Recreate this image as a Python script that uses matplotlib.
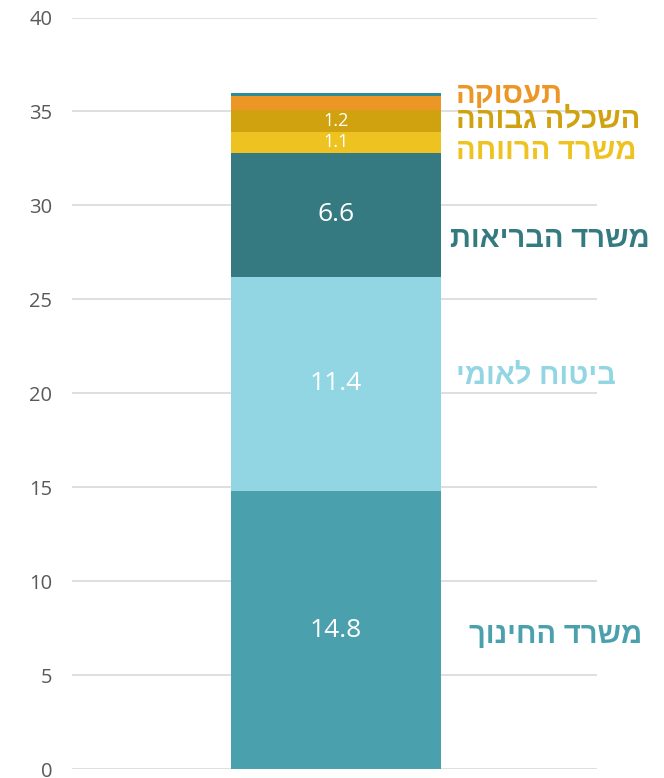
import matplotlib
matplotlib.use("Agg")
import matplotlib.pyplot as plt

plt.rcParams['font.family'] = ['Open Sans', 'Liberation Sans', 'DejaVu Sans']

categories = ["משרד החינוך", "ביטוח לאומי", "משרד הבריאות", "משרד הרווחה", "השכלה גבוהה", "תעסוקה", "אחר"]
values = [14.8, 11.4, 6.6, 1.1, 1.2, 0.7, 0.2]
colors = ["#4AA1AD", "#93D6E3", "#357A80", "#EEC321", "#D0A210", "#EC9626", "#2B8C9C"]
value_labels = ["14.8", "11.4", "6.6", "1.1", "1.2", "", ""]
label_colors = ["#4AA1AD", "#93D6E3", "#357A80", "#EEC321", "#D0A210", "#EC9626", None]
yticks = [0, 5, 10, 15, 20, 25, 30, 35, 40]

def visual(s):
    return s[::-1]

fig = plt.figure(figsize=(6.64, 7.78), dpi=100)
ax = fig.add_axes([0.108, 0.0115, 0.791, 0.966])

bottom = 0.0
for v, c, lab in zip(values, colors, value_labels):
    ax.bar(0, v, bottom=bottom, width=0.4, color=c, zorder=3)
    mid = bottom + v / 2
    if lab:
        fs = 19 if v > 3 else 13
        ax.text(0, mid, lab, ha='center', va='center', color='white', fontsize=fs, zorder=4)
    bottom += v

# category labels to the right
label_y = [7.1, 20.9, 28.2, 32.85, 34.55, 35.85]
label_x = [0.253, 0.228, 0.218, 0.228, 0.228, 0.228]
for name, y, x, c in zip(categories[:6], label_y, label_x, label_colors[:6]):
    ax.text(x, y, visual(name), ha='left', va='center', color=c, fontsize=21,
            fontweight='bold', zorder=5)

ax.set_xlim(-0.503, 0.497)
ax.set_ylim(0, 40)
ax.set_yticks(yticks)
ax.set_yticklabels([str(t) for t in yticks], color='#595959', fontsize=14.5)
ax.set_xticks([])
ax.tick_params(axis='y', length=0, pad=14)
ax.grid(axis='y', color='#D9D9D9', linewidth=1.2, zorder=0)
for s in ax.spines.values():
    s.set_visible(False)

fig.savefig("out.png", dpi=100)
